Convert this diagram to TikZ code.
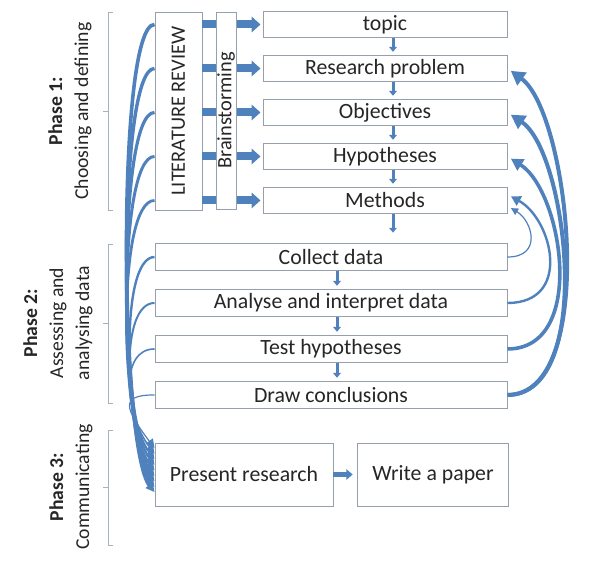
\documentclass[tikz,border=0pt]{standalone}
\usepackage{fontspec}
\setmainfont{Carlito}
\usetikzlibrary{arrows.meta, positioning}
\definecolor{flowblue}{RGB}{79,129,189}
\definecolor{edgegray}{RGB}{150,160,172}
\definecolor{bracketgray}{RGB}{165,178,192}
\tikzset{
    stepbox/.style={rectangle, draw=edgegray, fill=white, line width=0.7pt, minimum height=6.5mm, inner sep=0pt, text=black!85, font=\fontsize{15.5}{18}\selectfont},
    phaselabel/.style={rotate=90, align=center, inner sep=0pt, text=black!85, font=\fontsize{14}{18.5}\selectfont},
    bracketline/.style={draw=bracketgray, line width=0.6pt},
    blockarr/.style={flowblue, line width=2mm, -{Triangle[length=2.2mm, width=3.8mm]}, shorten >=0.5mm},
    downarr/.style={flowblue, line width=0.75mm, -{Triangle[length=1.2mm, width=1.9mm]}, shorten >=0.8mm},
    fanarr/.style={flowblue, -{Triangle[length=2.2mm, width=2.2mm]}},
    backarr/.style={flowblue, shorten >=1mm},
}
\begin{document}
\begin{tikzpicture}[x=0.25mm, y=-0.25mm]
\useasboundingbox (0,0) rectangle (600,567);

% Phase 1 column - topic down to methods
\node[stepbox, minimum width=61mm] (topic) at (385,24.5) {topic};
\node[stepbox, minimum width=61mm, below=4.25mm of topic] (problem) {Research problem};
\node[stepbox, minimum width=61mm, below=4.25mm of problem] (objectives) {Objectives};
\node[stepbox, minimum width=61mm, below=4.25mm of objectives] (hypotheses) {Hypotheses};
\node[stepbox, minimum width=61mm, below=4.25mm of hypotheses] (methods) {Methods};
\node[stepbox, rotate=90, minimum width=49.5mm, minimum height=11.75mm, font=\fontsize{14.5}{17}\selectfont] (litrev) at (178.5,111) {LITERATURE REVIEW};

% Block arrows (they run behind the brainstorming box)
\foreach \b in {topic, problem, objectives, hypotheses, methods}
  \draw[blockarr] (\b.west -| litrev.south) -- (\b.west);
\node[stepbox, rotate=90, minimum width=49.25mm, minimum height=5mm, font=\fontsize{14.5}{17}\selectfont] (brainstorm) at (226,110.5) {Brainstorming};

% Phase 2 column
\node[stepbox, minimum width=88mm, minimum height=6.75mm] (collect) at (331,257) {Collect data};
\node[stepbox, minimum width=88mm, minimum height=6.75mm, below=4.5mm of collect] (analyse) {Analyse and interpret data};
\node[stepbox, minimum width=88mm, minimum height=6.75mm, below=4.5mm of analyse] (testhyp) {Test hypotheses};
\node[stepbox, minimum width=88mm, minimum height=6.75mm, below=4.5mm of testhyp] (conclude) {Draw conclusions};

% Phase 3 row
\node[stepbox, minimum width=44.5mm, minimum height=15.75mm] (present) at (244,474.5) {Present research};
\node[stepbox, minimum width=37.5mm, minimum height=15.75mm, right=6mm of present] (paper) {Write a paper};

% Phase labels and brackets
\node[phaselabel] (phaseone) at (70,111) {\textbf{Phase 1:}\\Choosing and defining};
\node[phaselabel] (phasetwo) at (58,323) {\textbf{Phase 2:}\\Assessing and\\analysing data};
\node[phaselabel] (phasethree) at (71,487) {\textbf{Phase 3:}\\Communicating};
\draw[bracketline] (113,12) -- (108,12) -- (108,210) -- (113,210) (108,111) -- (103,111);
\draw[bracketline] (113,244) -- (108,244) -- (108,403) -- (113,403) (108,323) -- (103,323);
\draw[bracketline] (113,430) -- (108,430) -- (108,545) -- (113,545) (108,487) -- (103,487);

% Down arrows
\draw[downarr] ([xshift=2mm]topic.south) -- ([xshift=2mm]problem.north);
\draw[downarr] ([xshift=2mm]problem.south) -- ([xshift=2mm]objectives.north);
\draw[downarr] ([xshift=2mm]objectives.south) -- ([xshift=2mm]hypotheses.north);
\draw[downarr] ([xshift=2mm]hypotheses.south) -- ([xshift=2mm]methods.north);
\draw[downarr, shorten >=2.6mm] ([xshift=2mm]methods.south) -- ([xshift=2mm]methods.south |- collect.north);
\draw[downarr] ([xshift=1.5mm]collect.south) -- ([xshift=1.5mm]analyse.north);
\draw[downarr] ([xshift=1.5mm]analyse.south) -- ([xshift=1.5mm]testhyp.north);
\draw[downarr] ([xshift=1.5mm]testhyp.south) -- ([xshift=1.5mm]conclude.north);
\draw[flowblue, line width=1.1mm, -{Triangle[length=1.6mm, width=2.6mm]}, shorten >=1.2mm] (present.east) -- (paper.west);

% Fan of arrows into present research
\foreach \b/\dy/\w in {topic/-4.4/0.9, problem/-3.1/0.85, objectives/-1.7/0.8, hypotheses/-0.4/0.75, methods/1.0/0.7}
  \draw[fanarr, line width=\w mm] (\b.west -| litrev.north) .. controls +(-38,0) and +(-35,-45) .. ([yshift=\dy mm]present.west);
\foreach \b/\dy/\w in {collect/2.4/0.6, analyse/3.8/0.5, testhyp/5.2/0.4, conclude/6.6/0.3}
  \draw[fanarr, line width=\w mm] (\b.west) .. controls +(-35,0) and +(-30,-40) .. ([yshift=\dy mm]present.west);

% Feedback arrows on the right
\draw[backarr, line width=0.3mm, -{Triangle[length=1.8mm, width=1.8mm]}] (collect.east) .. controls +(35,0) and +(25,15) .. ([yshift=-1.4mm]methods.east);
\draw[backarr, line width=0.6mm, -{Triangle[length=2.4mm, width=2.6mm]}] (analyse.east) .. controls +(65,0) and +(45,25) .. ([yshift=1.5mm]methods.east);
\draw[backarr, line width=0.9mm, -{Triangle[length=3mm, width=3.2mm]}] (testhyp.east) .. controls +(80,0) and +(55,35) .. (hypotheses.east);
\draw[backarr, line width=1mm, -{Triangle[length=3.5mm, width=3.8mm]}] (conclude.east) .. controls +(88,0) and +(60,40) .. (objectives.east);
\draw[backarr, line width=1mm, -{Triangle[length=3.5mm, width=3.8mm]}] (conclude.east) .. controls +(92,0) and +(62,45) .. (problem.east);
\end{tikzpicture}
\end{document}
